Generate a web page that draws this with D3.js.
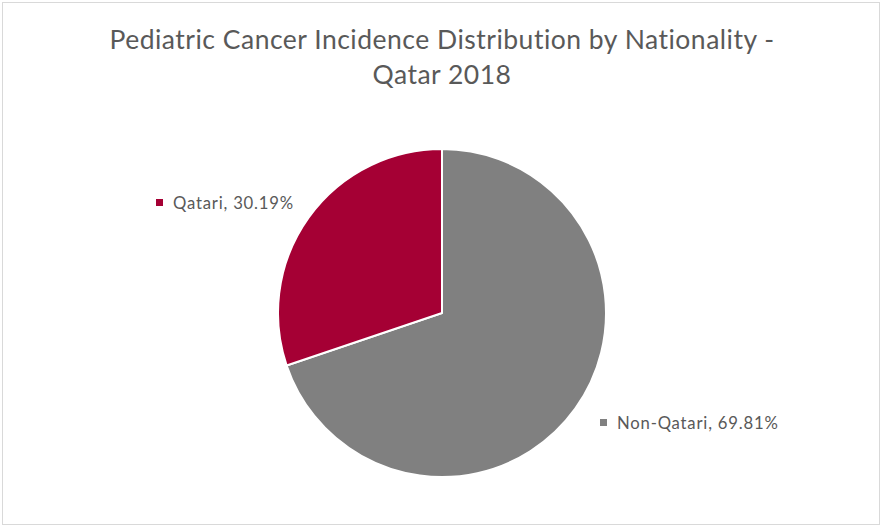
<!DOCTYPE html>
<html>
<head>
<meta charset="utf-8">
<script src="https://cdn.jsdelivr.net/npm/d3@7"></script>
<style>
  html, body { margin: 0; padding: 0; background: #fff; }
  svg { display: block; }
</style>
</head>
<body>
<svg id="chart" width="882" height="526"></svg>
<script>
// Share of pediatric cancer cases by nationality, Qatar 2018
const categories = ["Non-Qatari", "Qatari"];
const shares = [69.81, 30.19];
const colors = ["#808080", "#A50034"];

const titleLines = ["Pediatric Cancer Incidence Distribution by Nationality -", "Qatar 2018"];

const W = 882, H = 526;
const cx = 442, cy = 313, radius = 164;
const font = "Lato, 'Open Sans', sans-serif";

const svg = d3.select("#chart");

// outer chart frame
svg.append("rect")
  .attr("x", 2.5).attr("y", 2.5)
  .attr("width", W - 5).attr("height", H - 4)
  .attr("fill", "#fff")
  .attr("stroke", "#d9d9d9")
  .attr("stroke-width", 1);

// title
svg.append("g").selectAll("text")
  .data(titleLines)
  .join("text")
  .attr("x", 442)
  .attr("y", (d, i) => 49 + i * 35)
  .attr("text-anchor", "middle")
  .attr("font-family", font)
  .attr("font-size", 26.5)
  .attr("letter-spacing", 0.5)
  .attr("fill", "#595959")
  .text(d => d);

// pie, starting at 12 o'clock and running clockwise
const pie = d3.pie().sort(null).value(d => d.value);
const arc = d3.arc().innerRadius(0).outerRadius(radius);
const data = categories.map((c, i) => ({ name: c, value: shares[i], color: colors[i] }));
const arcs = pie(data);

svg.append("g")
  .attr("transform", `translate(${cx},${cy})`)
  .selectAll("path")
  .data(arcs)
  .join("path")
  .attr("d", arc)
  .attr("fill", d => d.data.color)
  .attr("stroke", "#fff")
  .attr("stroke-width", 2)
  .attr("stroke-linejoin", "round");

// data labels with colour keys
const labelPos = { "Qatari": [156, 209], "Non-Qatari": [600, 429] };
const fmt = d3.format(".2f");
const labels = svg.append("g").selectAll("g")
  .data(data)
  .join("g")
  .attr("transform", d => `translate(${labelPos[d.name][0]},${labelPos[d.name][1]})`);

labels.append("rect")
  .attr("x", 0).attr("y", -10)
  .attr("width", 7).attr("height", 7)
  .attr("fill", d => d.color);

labels.append("text")
  .attr("x", 17).attr("y", 0)
  .attr("font-family", font)
  .attr("font-size", 16.7)
  .attr("letter-spacing", 0.8)
  .attr("fill", "#595959")
  .text(d => `${d.name}, ${fmt(d.value)}%`);
</script>
</body>
</html>
